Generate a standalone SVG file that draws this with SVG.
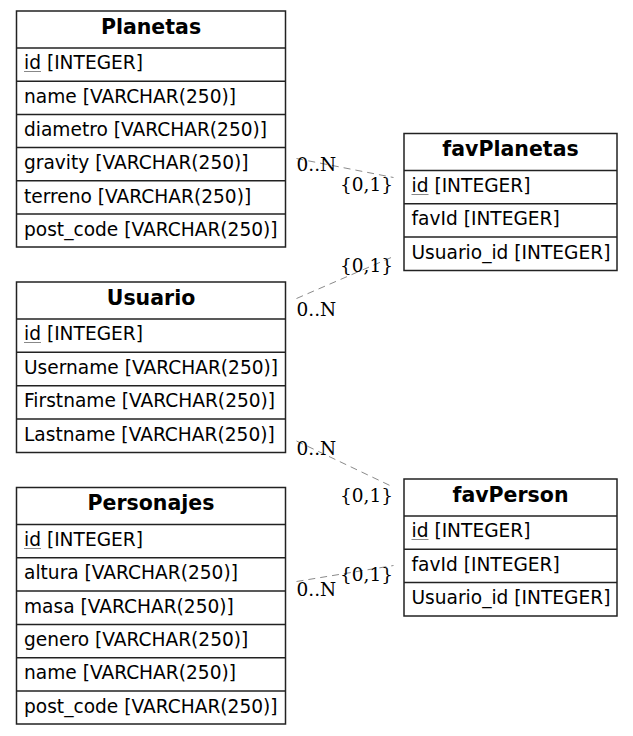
<svg xmlns="http://www.w3.org/2000/svg" width="633" height="736" viewBox="0 0 633 736">
  <style>
    .box { fill: #ffffff; stroke: #222222; stroke-width: 1.5; }
    .sep { stroke: #222222; stroke-width: 1.5; }
    .title { font-family: "DejaVu Sans", sans-serif; font-size: 20.5px; font-weight: bold; fill: #000; text-anchor: middle; }
    .field { font-family: "DejaVu Sans", sans-serif; font-size: 18.6px; fill: #000; }
    .pk { stroke: #888888; stroke-width: 1; }
    .rel { fill: none; stroke: #8a8a8a; stroke-width: 1; stroke-dasharray: 7,5; }
    .card { font-family: "DejaVu Serif", serif; font-size: 18.5px; fill: #000; }
  </style>

  <rect width="633" height="736" fill="#ffffff"/>

  <!-- relationships -->
  <g id="connectors">
    <line class="rel" x1="296.5" y1="158.5" x2="393.5" y2="177.5"/>
    <text class="card" x="296.5" y="171">0..N</text>
    <text class="card" x="340" y="191">{0,1}</text>

    <line class="rel" x1="296.5" y1="298.5" x2="393.5" y2="256.5"/>
    <text class="card" x="340" y="272">{0,1}</text>
    <text class="card" x="296.5" y="316">0..N</text>

    <line class="rel" x1="296.5" y1="441" x2="391" y2="486"/>
    <text class="card" x="296.5" y="455">0..N</text>
    <text class="card" x="340" y="502">{0,1}</text>

    <line class="rel" x1="296.5" y1="581.5" x2="393.5" y2="565.5"/>
    <text class="card" x="340" y="581">{0,1}</text>
    <text class="card" x="296.5" y="596">0..N</text>
  </g>

  <!-- Planetas -->
  <g id="Planetas">
    <rect class="box" x="16.5" y="11" width="269" height="236"/>
    <line class="sep" x1="16.5" y1="48" x2="285.5" y2="48"/>
    <line class="sep" x1="16.5" y1="81.2" x2="285.5" y2="81.2"/>
    <line class="sep" x1="16.5" y1="114.4" x2="285.5" y2="114.4"/>
    <line class="sep" x1="16.5" y1="147.6" x2="285.5" y2="147.6"/>
    <line class="sep" x1="16.5" y1="180.8" x2="285.5" y2="180.8"/>
    <line class="sep" x1="16.5" y1="214" x2="285.5" y2="214"/>
    <text class="title" x="151" y="33.5">Planetas</text>
    <text class="field" x="24" y="69">id [INTEGER]</text>
    <line class="pk" x1="24" y1="71.5" x2="41" y2="71.5"/>
    <text class="field" x="24" y="103">name [VARCHAR(250)]</text>
    <text class="field" x="24" y="136">diametro [VARCHAR(250)]</text>
    <text class="field" x="24" y="169">gravity [VARCHAR(250)]</text>
    <text class="field" x="24" y="203">terreno [VARCHAR(250)]</text>
    <text class="field" x="24" y="236">post_code [VARCHAR(250)]</text>
  </g>

  <!-- Usuario -->
  <g id="Usuario">
    <rect class="box" x="16.5" y="282" width="269" height="170.5"/>
    <line class="sep" x1="16.5" y1="319" x2="285.5" y2="319"/>
    <line class="sep" x1="16.5" y1="352.3" x2="285.5" y2="352.3"/>
    <line class="sep" x1="16.5" y1="385.7" x2="285.5" y2="385.7"/>
    <line class="sep" x1="16.5" y1="419" x2="285.5" y2="419"/>
    <text class="title" x="151" y="304.5">Usuario</text>
    <text class="field" x="24" y="340">id [INTEGER]</text>
    <line class="pk" x1="24" y1="342.5" x2="41" y2="342.5"/>
    <text class="field" x="24" y="374">Username [VARCHAR(250)]</text>
    <text class="field" x="24" y="407">Firstname [VARCHAR(250)]</text>
    <text class="field" x="24" y="441">Lastname [VARCHAR(250)]</text>
  </g>

  <!-- Personajes -->
  <g id="Personajes">
    <rect class="box" x="16.5" y="487.5" width="269" height="236.5"/>
    <line class="sep" x1="16.5" y1="524.5" x2="285.5" y2="524.5"/>
    <line class="sep" x1="16.5" y1="557.8" x2="285.5" y2="557.8"/>
    <line class="sep" x1="16.5" y1="591.1" x2="285.5" y2="591.1"/>
    <line class="sep" x1="16.5" y1="624.4" x2="285.5" y2="624.4"/>
    <line class="sep" x1="16.5" y1="657.7" x2="285.5" y2="657.7"/>
    <line class="sep" x1="16.5" y1="691" x2="285.5" y2="691"/>
    <text class="title" x="151" y="510">Personajes</text>
    <text class="field" x="24" y="546">id [INTEGER]</text>
    <line class="pk" x1="24" y1="548.5" x2="41" y2="548.5"/>
    <text class="field" x="24" y="579">altura [VARCHAR(250)]</text>
    <text class="field" x="24" y="613">masa [VARCHAR(250)]</text>
    <text class="field" x="24" y="646">genero [VARCHAR(250)]</text>
    <text class="field" x="24" y="679">name [VARCHAR(250)]</text>
    <text class="field" x="24" y="713">post_code [VARCHAR(250)]</text>
  </g>

  <!-- favPlanetas -->
  <g id="favPlanetas">
    <rect class="box" x="404" y="133.5" width="213" height="137"/>
    <line class="sep" x1="404" y1="170.5" x2="617" y2="170.5"/>
    <line class="sep" x1="404" y1="203.8" x2="617" y2="203.8"/>
    <line class="sep" x1="404" y1="237.1" x2="617" y2="237.1"/>
    <text class="title" x="510.5" y="156">favPlanetas</text>
    <text class="field" x="411.5" y="192">id [INTEGER]</text>
    <line class="pk" x1="411.5" y1="194.5" x2="428.5" y2="194.5"/>
    <text class="field" x="411.5" y="225">favId [INTEGER]</text>
    <text class="field" x="411.5" y="259">Usuario_id [INTEGER]</text>
  </g>

  <!-- favPerson -->
  <g id="favPerson">
    <rect class="box" x="404" y="479" width="213" height="137"/>
    <line class="sep" x1="404" y1="516" x2="617" y2="516"/>
    <line class="sep" x1="404" y1="549.3" x2="617" y2="549.3"/>
    <line class="sep" x1="404" y1="582.6" x2="617" y2="582.6"/>
    <text class="title" x="510.5" y="501.5">favPerson</text>
    <text class="field" x="411.5" y="537">id [INTEGER]</text>
    <line class="pk" x1="411.5" y1="539.5" x2="428.5" y2="539.5"/>
    <text class="field" x="411.5" y="571">favId [INTEGER]</text>
    <text class="field" x="411.5" y="604">Usuario_id [INTEGER]</text>
  </g>
</svg>
